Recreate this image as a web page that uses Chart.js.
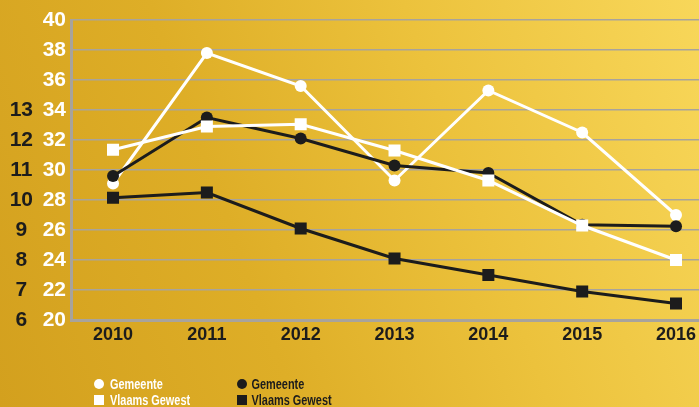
<!DOCTYPE html>
<html>
<head>
<meta charset="utf-8">
<script src="https://cdn.jsdelivr.net/npm/chart.js@4"></script>
<style>
html,body{margin:0;padding:0;}
body{width:699px;height:407px;overflow:hidden;
background:linear-gradient(70deg,#D3A01E 0%,#DEAE27 35%,#ECC23C 65%,#F8D75A 100%);}
#wrap{position:relative;width:699px;height:407px;}
</style>
</head>
<body>
<div id="wrap"><canvas id="c"></canvas></div>
<script>
const years = [2010, 2011, 2012, 2013, 2014, 2015, 2016];
const gemeenteWhite = [29.1, 37.8, 35.6, 29.3, 35.3, 32.5, 27.0];
const gemeenteBlack = [29.6, 33.5, 32.1, 30.3, 29.8, 26.35, 26.25];
const vlaamsWhite = [31.35, 32.9, 33.05, 31.3, 29.3, 26.3, 24.0];
const vlaamsBlack = [28.15, 28.5, 26.1, 24.1, 23.0, 21.9, 21.1];
const leftTicksInner = [20, 22, 24, 26, 28, 30, 32, 34, 36, 38, 40];
const leftTicksOuter = [6, 7, 8, 9, 10, 11, 12, 13];

const FONT = "'Liberation Sans', Arial, sans-serif";
const WHITE = '#FFFFFF';
const DARK = '#1C1C1C';

function pts(arr){ return arr.map((v,i)=>({x: years[i], y: v})); }
function noPad(s){ s.paddingTop = 0; s.paddingBottom = 0; s.paddingLeft = 0; s.paddingRight = 0; }

const legendPlugin = {
  id: 'customLegend',
  afterDraw(chart){
    const ctx = chart.ctx;
    const ds = chart.data.datasets;
    const slots = [
      {i: 3, x: 99, tx: 110, y: 384},
      {i: 1, x: 99, tx: 110, y: 400},
      {i: 2, x: 242, tx: 251.5, y: 384},
      {i: 0, x: 242, tx: 251.5, y: 400}
    ];
    ctx.save();
    ctx.font = "bold 14px " + FONT;
    ctx.textBaseline = 'alphabetic';
    slots.forEach(s => {
      const d = ds[s.i];
      ctx.fillStyle = d.pointBackgroundColor;
      if (d.pointStyle === 'circle') {
        ctx.beginPath(); ctx.arc(s.x, s.y, 5, 0, Math.PI*2); ctx.fill();
      } else {
        ctx.fillRect(s.x - 5, s.y - 5, 10, 10);
      }
      ctx.fillStyle = d.labelColor;
      ctx.save();
      ctx.translate(s.tx, s.y + 5.2);
      ctx.scale(0.78, 1.02);
      ctx.fillText(d.label, 0, 0);
      ctx.restore();
    });
    ctx.restore();
  }
};

new Chart(document.getElementById('c'), {
  type: 'line',
  data: {
    datasets: [
      {label: 'Vlaams Gewest', data: pts(vlaamsBlack), borderColor: DARK, pointBackgroundColor: DARK, pointBorderColor: DARK, pointStyle: 'rect', pointRadius: 8.5, labelColor: DARK},
      {label: 'Vlaams Gewest', data: pts(vlaamsWhite), borderColor: WHITE, pointBackgroundColor: WHITE, pointBorderColor: WHITE, pointStyle: 'rect', pointRadius: 8.5, labelColor: WHITE},
      {label: 'Gemeente', data: pts(gemeenteBlack), borderColor: DARK, pointBackgroundColor: DARK, pointBorderColor: DARK, pointStyle: 'circle', pointRadius: 6, labelColor: DARK},
      {label: 'Gemeente', data: pts(gemeenteWhite), borderColor: WHITE, pointBackgroundColor: WHITE, pointBorderColor: WHITE, pointStyle: 'circle', pointRadius: 6, labelColor: WHITE}
    ]
  },
  options: {
    responsive: true,
    maintainAspectRatio: false,
    animation: false,
    events: [],
    layout: {autoPadding: false, padding: {top: 20, right: 0, left: 0, bottom: 0}},
    elements: {line: {borderWidth: 3, tension: 0}, point: {borderWidth: 0}},
    plugins: {legend: {display: false}, tooltip: {enabled: false}, title: {display: false}},
    scales: {
      x: {
        type: 'linear',
        min: 2009.552, max: 2016.245,
        afterBuildTicks(s){ s.ticks = years.map(v => ({value: v})); },
        afterFit(s){ s.height = 87; noPad(s); },
        ticks: {color: DARK, font: {family: FONT, weight: 'bold', size: 18}, padding: 4, callback: v => String(v), autoSkip: false, maxRotation: 0},
        grid: {display: false, drawTicks: false},
        border: {display: true, color: '#A8A39C', width: 3}
      },
      y: {
        position: 'left',
        weight: 0,
        min: 20, max: 40,
        afterBuildTicks(s){ s.ticks = leftTicksInner.map(v => ({value: v})); },
        afterFit(s){ s.width = 28; noPad(s); },
        ticks: {color: WHITE, font: {family: FONT, weight: 'bold', size: 21}, padding: 5},
        grid: {color: '#A8A39C', lineWidth: 1.5, drawTicks: false},
        border: {display: true, color: '#A8A39C', width: 3}
      },
      y2: {
        position: 'left',
        weight: 10,
        min: 6, max: 16,
        afterBuildTicks(s){ s.ticks = leftTicksOuter.map(v => ({value: v})); },
        afterFit(s){ s.width = 43; noPad(s); },
        ticks: {color: DARK, font: {family: FONT, weight: 'bold', size: 21}, padding: 10, crossAlign: 'center'},
        grid: {display: false, drawTicks: false},
        border: {display: false}
      }
    }
  },
  plugins: [legendPlugin]
});
</script>
</body>
</html>
